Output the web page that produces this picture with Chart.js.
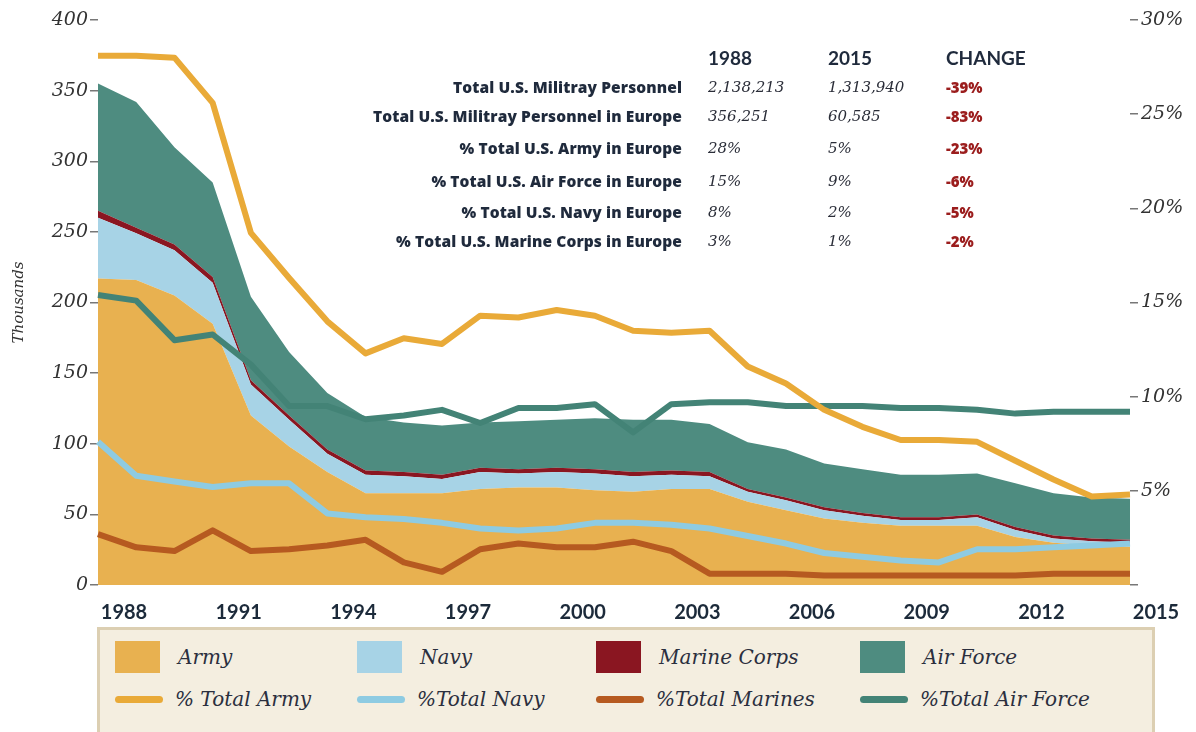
<!DOCTYPE html>
<html>
<head>
<meta charset="utf-8">
<script src="https://cdn.jsdelivr.net/npm/chart.js@4.4.1/dist/chart.umd.min.js"></script>
<style>
  body { margin: 0; background: #fff; }
  #page { position: relative; width: 1196px; height: 732px; overflow: hidden; background: #fff; }
  #chart-box { position: absolute; left: 0; top: 0; width: 1196px; height: 620px; }
  #summary {
    position: absolute; left: 360px; top: 42px;
    display: grid;
    grid-template-columns: 322px 146px 118px 110px;
    grid-template-rows: 30.5px 28.5px 30.5px 33.5px 31.5px 30px 29.5px;
    align-items: center;
    color: #1f2a3c;
  }
  #summary .lbl { text-align: right; font: 800 15.5px "Open Sans", sans-serif; letter-spacing: 0.1px; white-space: nowrap; }
  #summary .head { font: bold 19px Lato, sans-serif; }
  #summary .v88 { padding-left: 26px; }
  #summary .val { font: italic 15px "DejaVu Serif", serif; color: #2a2d38; }
  #summary .chg { font: 800 15px "Open Sans", sans-serif; color: #9b1d1d; }
  #legend {
    position: absolute; left: 97px; top: 627px; width: 1037px; height: 100px;
    border: 3px solid #dccfb2; background: #f4eee0;
    display: grid;
    grid-template-columns: 242px 239px 264px 240px;
    grid-template-rows: 42px 42px;
    padding: 6px 0 0 15px; box-sizing: content-box;
  }
  #legend .item { display: flex; align-items: center; font: italic 20px "DejaVu Serif", serif; color: #2b2f3e; }
  #legend .swatch { width: 45px; height: 32px; margin-right: 18px; }
  #legend .line { width: 48px; height: 7px; border-radius: 4px; margin-right: 12px; }
</style>
</head>
<body>
<div id="page">
  <div id="chart-box"><canvas id="chart"></canvas></div>
  <div id="summary"></div>
  <div id="legend"></div>
</div>
<script>
// years on the x axis, labels shown every third year
const years = ['1988','1989','1990','1991','1992','1993','1994','1995','1996','1997',
               '1998','1999','2000','2001','2002','2003','2004','2005','2006','2007',
               '2008','2009','2010','2011','2012','2013','2014','2015'];
const tickYears = ['1988','1991','1994','1997','2000','2003','2006','2009','2012','2015'];

// personnel in Europe, thousands (stacked)
const army     = [217,216,205,185,120,98,80,65,65,65,68,69,69,67,66,68,68,59,53,47,44,42,42,42,34,30,28,27];
const navy     = [43,33,32,29,22,19,13,13,12,10,12,10,11,12,11,10,9,7,7,6,5,4,4,6,5,3,3,3];
const marines  = [5,4,4,4,3,3,3,3,3,3,3,3,3,3,3,3,3,2,2,2,2,2,2,2,2,2,2,2];
const airForce = [90,89,69,67,59,45,40,38,35,35,32,34,34,36,37,36,34,33,34,31,31,30,30,29,31,30,29,29];

// share of each service's total personnel stationed in Europe, %
const pctArmy     = [28.1,28.1,28.0,25.6,18.7,16.3,14.0,12.3,13.1,12.8,14.3,14.2,14.6,14.3,13.5,13.4,13.5,11.6,10.7,9.3,8.4,7.7,7.7,7.6,6.6,5.6,4.7,4.8];
const pctNavy     = [7.6,5.8,5.5,5.2,5.4,5.4,3.8,3.6,3.5,3.3,3.0,2.9,3.0,3.3,3.3,3.2,3.0,2.6,2.2,1.7,1.5,1.3,1.2,1.9,1.9,2.0,2.1,2.2];
const pctMarines  = [2.7,2.0,1.8,2.9,1.8,1.9,2.1,2.4,1.2,0.7,1.9,2.2,2.0,2.0,2.3,1.8,0.6,0.6,0.6,0.5,0.5,0.5,0.5,0.5,0.5,0.6,0.6,0.6];
const pctAirForce = [15.4,15.1,13.0,13.3,11.7,9.5,9.5,8.8,9.0,9.3,8.6,9.4,9.4,9.6,8.1,9.6,9.7,9.7,9.5,9.5,9.5,9.4,9.4,9.3,9.1,9.2,9.2,9.2];

// summary table
const tableHeads   = ['1988', '2015', 'CHANGE'];
const tableLabels  = ['Total U.S. Militray Personnel', 'Total U.S. Militray Personnel in Europe',
                      '% Total U.S. Army in Europe', '% Total U.S. Air Force in Europe',
                      '% Total U.S. Navy in Europe', '% Total U.S. Marine Corps in Europe'];
const table1988    = ['2,138,213', '356,251', '28%', '15%', '8%', '3%'];
const table2015    = ['1,313,940', '60,585', '5%', '9%', '2%', '1%'];
const tableChange  = ['-39%', '-83%', '-23%', '-6%', '-5%', '-2%'];

const colors = {
    army: '#e8b150', navy: '#a7d3e6', marines: '#8a1621', airForce: '#4e8c80',
    armyLine: '#e9aa38', navyLine: '#8ecbe2', marinesLine: '#b65a20', airForceLine: '#438376'
};

// build the table
const summary = document.getElementById('summary');
const addCell = (text, cls) => {
    const d = document.createElement('div');
    d.className = cls;
    d.textContent = text;
    summary.appendChild(d);
};
addCell('', 'lbl');
addCell(tableHeads[0], 'head v88');
addCell(tableHeads[1], 'head');
addCell(tableHeads[2], 'head');
tableLabels.forEach((label, i) => {
    addCell(label, 'lbl');
    addCell(table1988[i], 'val v88');
    addCell(table2015[i], 'val');
    addCell(tableChange[i], 'chg');
});

// build the legend
const legendItems = [
    { label: 'Army', color: colors.army, kind: 'swatch' },
    { label: 'Navy', color: colors.navy, kind: 'swatch' },
    { label: 'Marine Corps', color: colors.marines, kind: 'swatch' },
    { label: 'Air Force', color: colors.airForce, kind: 'swatch' },
    { label: '% Total Army', color: colors.armyLine, kind: 'line' },
    { label: '%Total Navy', color: colors.navyLine, kind: 'line' },
    { label: '%Total Marines', color: colors.marinesLine, kind: 'line' },
    { label: '%Total Air Force', color: colors.airForceLine, kind: 'line' }
];
const legend = document.getElementById('legend');
legendItems.forEach(item => {
    const el = document.createElement('div');
    el.className = 'item';
    const mark = document.createElement('span');
    mark.className = item.kind;
    mark.style.background = item.color;
    el.appendChild(mark);
    el.appendChild(document.createTextNode(item.label));
    legend.appendChild(el);
});

const area = (label, data, color, fill) => ({
    label, data, yAxisID: 'y', order: 1,
    backgroundColor: color, borderColor: color, borderWidth: 0,
    pointRadius: 0, tension: 0, fill
});
const pctLine = (label, data, color) => ({
    label, data, yAxisID: 'y1', order: 0,
    borderColor: color, backgroundColor: color, borderWidth: 6,
    borderJoinStyle: 'round', pointRadius: 0, tension: 0, fill: false
});

const serifTick = { family: 'DejaVu Serif', style: 'italic', size: 19 };

new Chart(document.getElementById('chart'), {
    type: 'line',
    data: {
        labels: years,
        datasets: [
            area('Army', army, colors.army, 'origin'),
            area('Navy', navy, colors.navy, '-1'),
            area('Marine Corps', marines, colors.marines, '-1'),
            area('Air Force', airForce, colors.airForce, '-1'),
            pctLine('% Total Army', pctArmy, colors.armyLine),
            pctLine('%Total Navy', pctNavy, colors.navyLine),
            pctLine('%Total Marines', pctMarines, colors.marinesLine),
            pctLine('%Total Air Force', pctAirForce, colors.airForceLine)
        ]
    },
    options: {
        responsive: true,
        maintainAspectRatio: false,
        animation: false,
        layout: { padding: { top: 20 } },
        plugins: { legend: { display: false }, tooltip: { enabled: false } },
        scales: {
            x: {
                offset: false,
                grid: { display: false },
                border: { display: false },
                ticks: {
                    autoSkip: false, maxRotation: 0, padding: 8, labelOffset: 26,
                    color: '#1c2a3a', font: { family: 'Lato', weight: 'bold', size: 20 },
                    callback: function(v, i) {
                        const y = this.getLabelForValue(v);
                        return tickYears.includes(y) ? y : '';
                    }
                },
                afterFit: s => { s.height = 35; }
            },
            y: {
                stacked: true, min: 0, max: 400,
                ticks: { stepSize: 50, padding: 2, color: '#333', font: serifTick },
                grid: { drawOnChartArea: false, tickLength: 8, color: '#777', lineWidth: 1.5 },
                border: { display: false },
                title: { display: true, text: 'Thousands', color: '#333',
                         font: { family: 'DejaVu Serif', style: 'italic', size: 15 },
                         padding: { top: 10, bottom: 0 } },
                afterFit: s => { s.width = 98; }
            },
            y1: {
                position: 'right', min: 0, max: 30,
                ticks: { stepSize: 5, padding: 3, color: '#333', font: serifTick,
                         callback: v => v === 0 ? '' : v + '%' },
                grid: { drawOnChartArea: false, tickLength: 8, color: '#777', lineWidth: 1.5 },
                border: { display: false },
                afterFit: s => { s.width = 66; }
            }
        }
    }
});
</script>
</body>
</html>
